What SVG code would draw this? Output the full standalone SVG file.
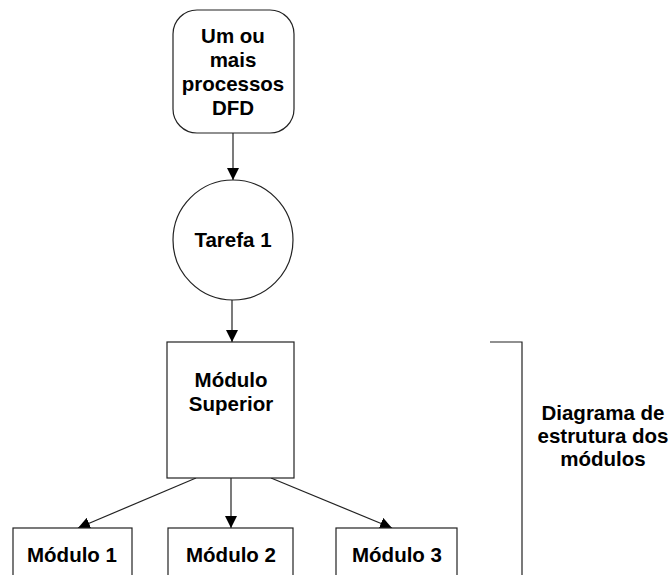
<svg xmlns="http://www.w3.org/2000/svg" width="672" height="575" viewBox="0 0 672 575">
<style>
.s{fill:#fff;stroke:#222;stroke-width:1.2}
.t{font-family:"Liberation Sans",Arial,sans-serif;font-weight:bold;font-size:20.5px;fill:#000;text-anchor:middle}
.c{stroke:#222;stroke-width:1.2;fill:none}
</style>
<defs>
<marker id="ah" viewBox="0 0 10 10" refX="10" refY="5" markerWidth="12" markerHeight="12" markerUnits="userSpaceOnUse" orient="auto">
<path d="M0,0 L10,5 L0,10 Z" fill="#000"/>
</marker>
</defs>
<rect width="672" height="575" fill="#fff"/>
<g id="connectors">
<line class="c" x1="233" y1="133" x2="233" y2="180" marker-end="url(#ah)"/>
<line class="c" x1="232" y1="300" x2="232" y2="342" marker-end="url(#ah)"/>
<line class="c" x1="196" y1="478" x2="78" y2="528" marker-end="url(#ah)"/>
<line class="c" x1="231" y1="478" x2="231" y2="528" marker-end="url(#ah)"/>
<line class="c" x1="271" y1="478" x2="392" y2="528" marker-end="url(#ah)"/>
<polyline class="c" points="490,342 522,342 522,575"/>
</g>
<g id="dfd">
<rect class="s" x="173" y="10" width="121" height="123" rx="24"/>
<text class="t" x="233" y="43">Um ou</text>
<text class="t" x="233" y="67">mais</text>
<text class="t" x="233" y="91">processos</text>
<text class="t" x="233" y="115">DFD</text>
</g>
<g id="tarefa1">
<circle class="s" cx="233" cy="240" r="60"/>
<text class="t" x="233" y="247">Tarefa 1</text>
</g>
<g id="superior">
<rect class="s" x="167" y="342" width="127" height="136"/>
<text class="t" x="231" y="387">Módulo</text>
<text class="t" x="231" y="411">Superior</text>
</g>
<g id="modulo1">
<rect class="s" x="13" y="528" width="119" height="60"/>
<text class="t" x="72" y="562">Módulo 1</text>
</g>
<g id="modulo2">
<rect class="s" x="168" y="528" width="125" height="60"/>
<text class="t" x="231" y="562">Módulo 2</text>
</g>
<g id="modulo3">
<rect class="s" x="336" y="528" width="121" height="60"/>
<text class="t" x="397" y="562">Módulo 3</text>
</g>
<g id="label">
<text class="t" x="603" y="420">Diagrama de</text>
<text class="t" x="603" y="443">estrutura dos</text>
<text class="t" x="603" y="466">módulos</text>
</g>
</svg>
